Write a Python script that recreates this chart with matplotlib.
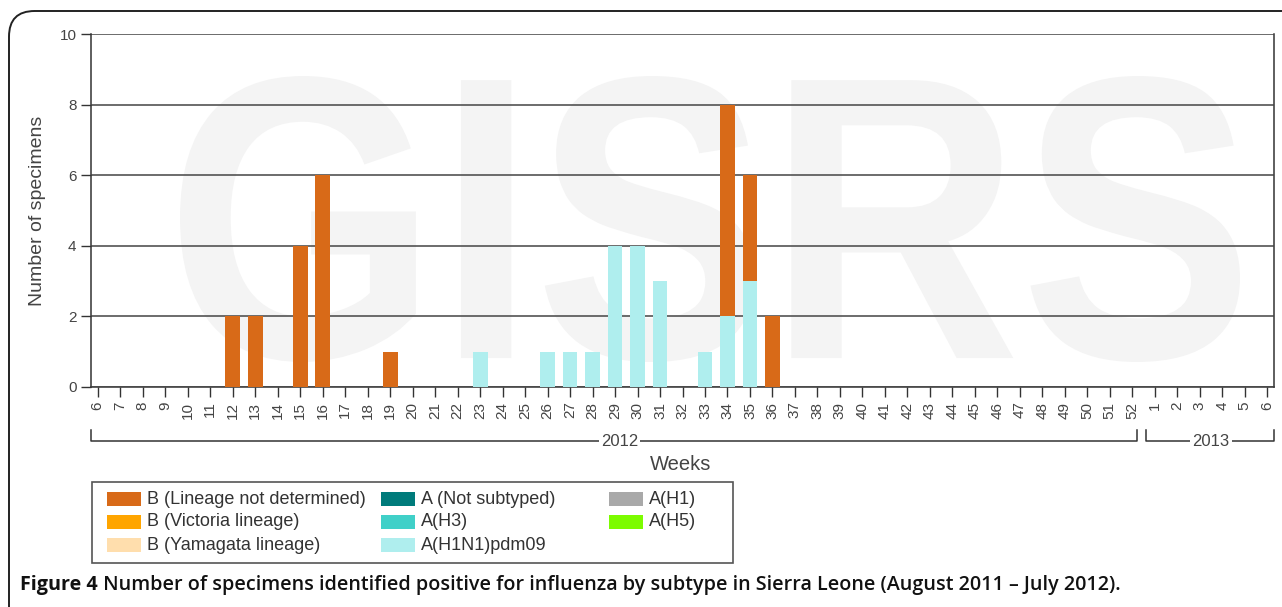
import matplotlib
matplotlib.use("Agg")
import matplotlib.pyplot as plt
import numpy as np
from matplotlib.patches import Rectangle, FancyBboxPatch, PathPatch
from matplotlib.lines import Line2D
from matplotlib.textpath import TextPath
from matplotlib.font_manager import FontProperties
import matplotlib.transforms as mtransforms

plt.rcParams["font.family"] = ["Liberation Sans", "DejaVu Sans"]

# week labels: 2012 weeks 6..52, then 2013 weeks 1..6
weeks = [str(w) for w in range(6, 53)] + [str(w) for w in range(1, 7)]

# counts (week -> specimens)
b_not_determined = {"12": 2, "13": 2, "15": 4, "16": 6, "19": 1, "34": 6, "35": 3, "36": 2}
h1n1_pdm09 = {"23": 1, "26": 1, "27": 1, "28": 1, "29": 4, "30": 4, "31": 3, "33": 1, "34": 2, "35": 3}

legend_labels = ["B (Lineage not determined)", "B (Victoria lineage)", "B (Yamagata lineage)",
                 "A (Not subtyped)", "A(H3)", "A(H1N1)pdm09", "A(H1)", "A(H5)"]
legend_colors = ["#d86a18", "#ffa500", "#ffdead", "#007b7b", "#40d0c8", "#afeeee", "#a9a9a9", "#7cfc00"]

caption_bold = "Figure 4"
caption_rest = " Number of specimens identified positive for influenza by subtype in Sierra Leone (August 2011 \u2013 July 2012)."

W, H = 1282, 607
fig = plt.figure(figsize=(W / 100, H / 100), dpi=100)

# outer rounded frame
frame = FancyBboxPatch((9 / W, -0.1), 1.2, 1 - 11 / H + 0.1, boxstyle="round,pad=0,rounding_size=0.02",
                       transform=fig.transFigure, fill=False, edgecolor="#222222", lw=1.4, mutation_aspect=W / H)
fig.patches.append(frame)

ax = fig.add_axes([91 / W, 1 - 387 / H, (1274 - 91) / W, (387 - 34) / H])

x = np.arange(len(weeks))
h1n1 = np.array([h1n1_pdm09.get(w, 0) for w in weeks])
bnd = np.array([b_not_determined.get(w, 0) for w in weeks])

# watermark, squeezed into the box it fills in the original (pixel coords)
tp = TextPath((0, 0), "GISRS", size=100, prop=FontProperties(family="Liberation Sans", weight="bold"))
ext = tp.get_extents()
bx0, bx1, by0, by1 = 180, 1240, H - 362, H - 76
wm_tr = (mtransforms.Affine2D().translate(-ext.x0, -ext.y0)
         .scale((bx1 - bx0) / ext.width, (by1 - by0) / ext.height).translate(bx0, by0))
ax.add_patch(PathPatch(tp, transform=wm_tr, facecolor="#f4f4f4", edgecolor="none", zorder=0, clip_on=False))

ax.bar(x, h1n1, width=0.66, color=legend_colors[5], zorder=3)
ax.bar(x, bnd, width=0.66, bottom=h1n1, color=legend_colors[0], zorder=3)

ax.set_xlim(-0.3, len(weeks) - 0.7)
ax.set_ylim(0, 10)
ax.set_yticks(range(0, 11, 2))
ax.set_xticks(x)
ax.set_xticklabels(weeks, rotation=90)
ax.yaxis.grid(True, color="#444444", lw=1.1, zorder=1)
ax.set_axisbelow(False)
ax.spines["top"].set_visible(False)
for s in ["left", "right", "bottom"]:
    ax.spines[s].set_color("#333333")
    ax.spines[s].set_linewidth(1.1)
ax.tick_params(axis="both", colors="#333333", labelcolor="#444444", labelsize=11, length=7, width=1)
ax.set_ylabel("Number of specimens", fontsize=14, color="#444444", labelpad=10)

# year brackets under the tick labels
tr = mtransforms.blended_transform_factory(ax.transData, ax.transAxes)
y_line, y_top = -0.153, -0.122
for x0, x1, lab, xm in [(-0.3, 46.2, "2012", 23.2), (46.6, 52.3, "2013", 49.5)]:
    ax.add_line(Line2D([x0, x0, x1, x1], [y_top, y_line, y_line, y_top], transform=tr,
                       color="#333333", lw=1.1, clip_on=False))
    ax.text(xm, y_line, lab, transform=tr, ha="center", va="center", fontsize=12, color="#444444",
            bbox=dict(facecolor="white", edgecolor="none", pad=1.5))

fig.text(681 / W, 1 - 464 / H, "Weeks", ha="center", va="center", fontsize=14.5, color="#444444")

# legend box laid out on the original's fixed column grid (pixels)
def px(xp, yp):
    return xp / W, 1 - yp / H

fig.patches.append(Rectangle(px(92, 563), (733 - 92) / W, (563 - 482) / H, transform=fig.transFigure,
                             fill=False, edgecolor="#555555", lw=1.2))
col_x = [107, 381, 609]
row_y = [499, 522, 545]
for i, (lab, col) in enumerate(zip(legend_labels, legend_colors)):
    cx, ry = col_x[i // 3], row_y[i % 3]
    fig.patches.append(Rectangle(px(cx, ry + 7), 34 / W, 14 / H, transform=fig.transFigure,
                                 facecolor=col, edgecolor="none"))
    fig.text(*px(cx + 40, ry), lab, ha="left", va="center", fontsize=13, color="#333333")

t = fig.text(20 / W, 1 - 585 / H, caption_bold, ha="left", va="center", fontsize=14.2,
             fontweight="bold", family=["Open Sans", "DejaVu Sans"], color="#111111")
fig.canvas.draw()
bb = t.get_window_extent()
fig.text(bb.x1 / W, 1 - 585 / H, caption_rest, ha="left", va="center", fontsize=14.2,
         fontweight="semibold", family=["Open Sans", "DejaVu Sans"], color="#111111")

fig.savefig("out.png", dpi=100)
